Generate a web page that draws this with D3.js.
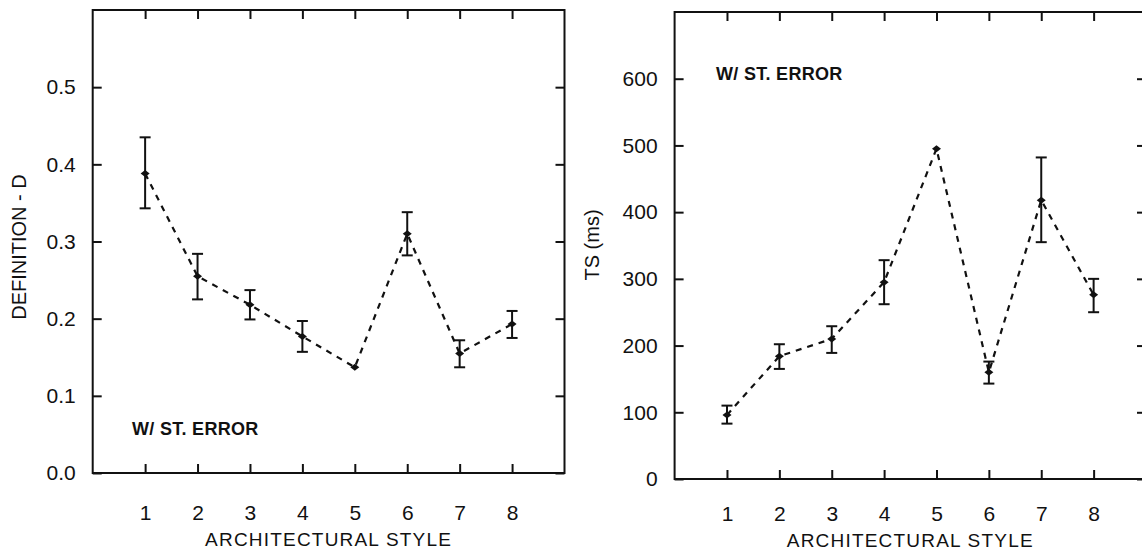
<!DOCTYPE html>
<html>
<head>
<meta charset="utf-8">
<script src="https://cdn.jsdelivr.net/npm/d3@7"></script>
<style>
  body { margin: 0; background: #fff; }
  svg { display: block; }
  text { font-family: "Liberation Sans", Arial, sans-serif; fill: #111; }
</style>
</head>
<body>
<script>
// architectural style on x for both panels
var styles = [1, 2, 3, 4, 5, 6, 7, 8];
var xTicks = [1, 2, 3, 4, 5, 6, 7, 8];

// left panel - definition D
var defMean = [0.388, 0.255, 0.218, 0.177, 0.137, 0.310, 0.155, 0.193];
var defLow  = [0.343, 0.225, 0.199, 0.157, null, 0.282, 0.137, 0.175];
var defHigh = [0.435, 0.284, 0.237, 0.197, null, 0.338, 0.172, 0.210];
var defTicks = [0.0, 0.1, 0.2, 0.3, 0.4, 0.5];

// right panel - TS (ms)
var tsMean = [96, 184, 210, 295, 495, 160, 418, 276];
var tsLow  = [83, 165, 189, 262, null, 143, 355, 250];
var tsHigh = [110, 202, 229, 328, null, 176, 482, 300];
var tsTicks = [0, 100, 200, 300, 400, 500, 600];

var width = 1142, height = 552;

var svg = d3.select("body")
            .append("svg")
            .attr("width", width)
            .attr("height", height);

function drawPanel(p) {
    var x = d3.scaleLinear().domain([0, 9]).range([p.left, p.right]);
    var y = d3.scaleLinear().domain(p.yDomain).range([p.bottom, p.top]);
    var g = svg.append("g");

    var pts = styles.map(function(s, i) {
        return {x: s, m: p.mean[i], lo: p.low[i], hi: p.high[i]};
    });

    // frame
    g.append("rect")
     .attr("x", p.left)
     .attr("y", p.top)
     .attr("width", p.right - p.left)
     .attr("height", p.bottom - p.top)
     .attr("fill", "none")
     .attr("stroke", "#111")
     .attr("stroke-width", 2);

    // axes with inward ticks
    var bottom = g.append("g")
        .attr("transform", "translate(0," + p.bottom + ")")
        .call(d3.axisBottom(x).tickValues(xTicks).tickSize(-9).tickPadding(p.xPad).tickFormat(d3.format("d")));
    var top = g.append("g")
        .attr("transform", "translate(0," + p.top + ")")
        .call(d3.axisTop(x).tickValues(xTicks).tickSize(-9).tickFormat(""));
    var left = g.append("g")
        .attr("transform", "translate(" + p.left + ",0)")
        .call(d3.axisLeft(y).tickValues(p.yTicks).tickSize(-9).tickPadding(17).tickFormat(p.fmt));
    var right = g.append("g")
        .attr("transform", "translate(" + p.right + ",0)")
        .call(d3.axisRight(y).tickValues(p.yTicks).tickSize(-9).tickFormat(""));

    [bottom, top, left, right].forEach(function(a) {
        a.select(".domain").remove();
        a.selectAll(".tick line").attr("stroke", "#111").attr("stroke-width", 2);
        a.selectAll("text")
         .attr("font-family", "Liberation Sans, Arial, sans-serif")
         .attr("font-size", "21px")
         .attr("fill", "#111");
    });

    // dashed connecting line
    var line = d3.line()
        .x(function(d) { return x(d.x); })
        .y(function(d) { return y(d.m); });

    g.append("path")
     .datum(pts)
     .attr("d", line)
     .attr("fill", "none")
     .attr("stroke", "#111")
     .attr("stroke-width", 2.2)
     .attr("stroke-dasharray", "6,6");

    // error bars
    var eb = pts.filter(function(d) { return d.lo != null; });
    g.selectAll(".ebar")
     .data(eb)
     .enter()
     .append("line")
     .attr("x1", function(d) { return x(d.x); })
     .attr("x2", function(d) { return x(d.x); })
     .attr("y1", function(d) { return y(d.lo); })
     .attr("y2", function(d) { return y(d.hi); })
     .attr("stroke", "#111")
     .attr("stroke-width", 2);

    ["lo", "hi"].forEach(function(k) {
        g.selectAll(".cap-" + k)
         .data(eb)
         .enter()
         .append("line")
         .attr("x1", function(d) { return x(d.x) - 5.5; })
         .attr("x2", function(d) { return x(d.x) + 5.5; })
         .attr("y1", function(d) { return y(d[k]); })
         .attr("y2", function(d) { return y(d[k]); })
         .attr("stroke", "#111")
         .attr("stroke-width", 2);
    });

    // diamond markers
    g.selectAll(".pt")
     .data(pts)
     .enter()
     .append("path")
     .attr("d", function(d) {
         var cx = x(d.x), cy = y(d.m);
         return "M" + (cx - 4.5) + "," + cy + "L" + cx + "," + (cy - 3.5) +
                "L" + (cx + 4.5) + "," + cy + "L" + cx + "," + (cy + 3.5) + "Z";
     })
     .attr("fill", "#111");

    // titles
    g.append("text")
     .text("ARCHITECTURAL  STYLE")
     .attr("x", (p.left + p.right) / 2)
     .attr("y", p.xTitleY)
     .attr("text-anchor", "middle")
     .attr("font-size", "19px")
     .attr("letter-spacing", "1.2px")
     .attr("dominant-baseline", "central");

    g.append("text")
     .text(p.yTitle)
     .attr("transform", "translate(" + p.yTitleX + "," + p.yTitleY + ") rotate(-90)")
     .attr("text-anchor", "middle")
     .attr("font-size", "20px")
     .attr("dominant-baseline", "central");

    g.append("text")
     .text("W/ ST. ERROR")
     .attr("x", p.noteX)
     .attr("y", p.noteY)
     .attr("font-size", "18px")
     .attr("font-weight", "bold")
     .attr("letter-spacing", "0.3px")
     .attr("dominant-baseline", "central");
}

drawPanel({
    left: 92.7, right: 564.5, top: 10, bottom: 473, xPad: 32,
    yDomain: [0, 0.6], yTicks: defTicks, fmt: d3.format(".1f"),
    mean: defMean, low: defLow, high: defHigh,
    yTitle: "DEFINITION - D", yTitleX: 19, yTitleY: 247,
    xTitleY: 539, noteX: 132, noteY: 429
});

drawPanel({
    left: 674.6, right: 1146, top: 12, bottom: 479, xPad: 27,
    yDomain: [0, 700], yTicks: tsTicks, fmt: d3.format("d"),
    mean: tsMean, low: tsLow, high: tsHigh,
    yTitle: "TS (ms)", yTitleX: 592, yTitleY: 245,
    xTitleY: 540, noteX: 716, noteY: 74
});
</script>
</body>
</html>
